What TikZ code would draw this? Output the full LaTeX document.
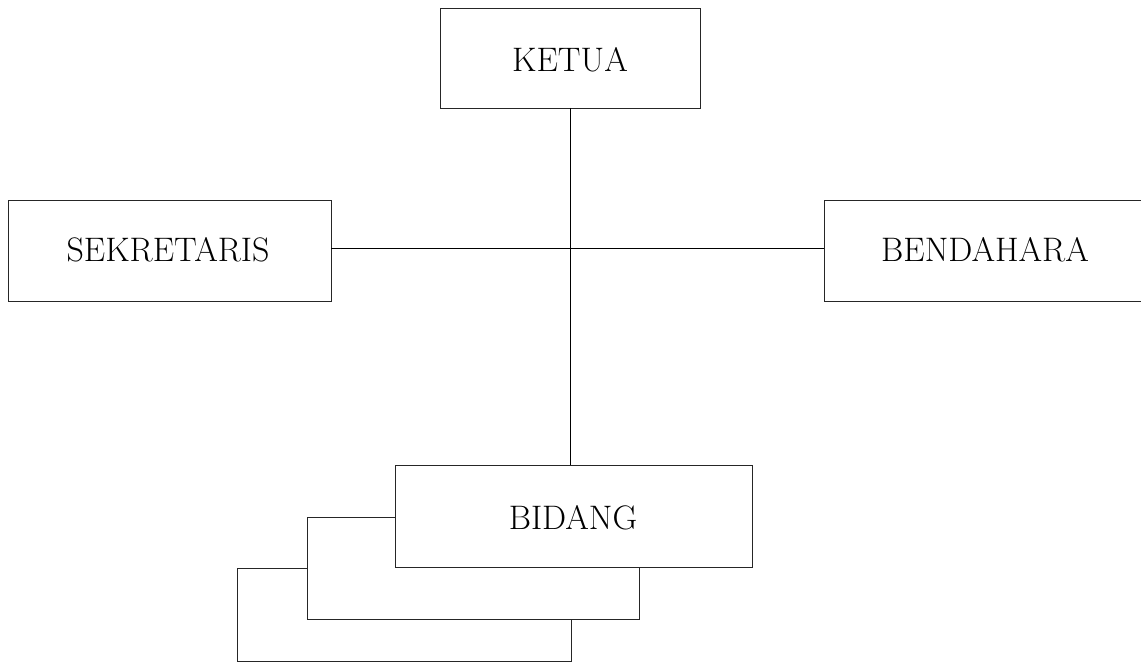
\documentclass[tikz,border=0pt]{standalone}
\begin{document}
\begin{tikzpicture}[x=1pt,y=-1pt,
  line width=0.9pt,
  box/.style={draw=black!85, fill=white, line width=0.9pt},
  lbl/.style={font=\fontsize{34}{40}\selectfont, inner sep=0pt},
  link/.style={draw=black, line width=0.9pt}]
\useasboundingbox (0,0) rectangle (1141,663);
\clip (0,0) rectangle (1141,663);
% boxes
\draw[box] (440,8) rectangle (700,108);
\node[lbl] (ketua) at (570,60) {KETUA};
\coordinate (ketuaS) at (570,108);
\draw[box] (8,200) rectangle (331,301);
\node[lbl] (sek) at (168,250) {SEKRETARIS};
\coordinate (sekE) at (331,248);
\draw[box] (824,200) rectangle (1148,301);
\node[lbl] (bend) at (985,250) {BENDAHARA};
\coordinate (bendW) at (824,248);
\coordinate (bidN) at (570,465);
\draw[link] (ketuaS) -- (bidN);
\draw[link] (sekE) -- (bendW);
% stacked bidang boxes
\draw[box] (237,568) rectangle (571,661);
\draw[box] (307,517) rectangle (639,619);
\draw[box] (395,465) rectangle (752,567);
\node[lbl] (bidang) at (573,518) {BIDANG};
\end{tikzpicture}
\end{document}
